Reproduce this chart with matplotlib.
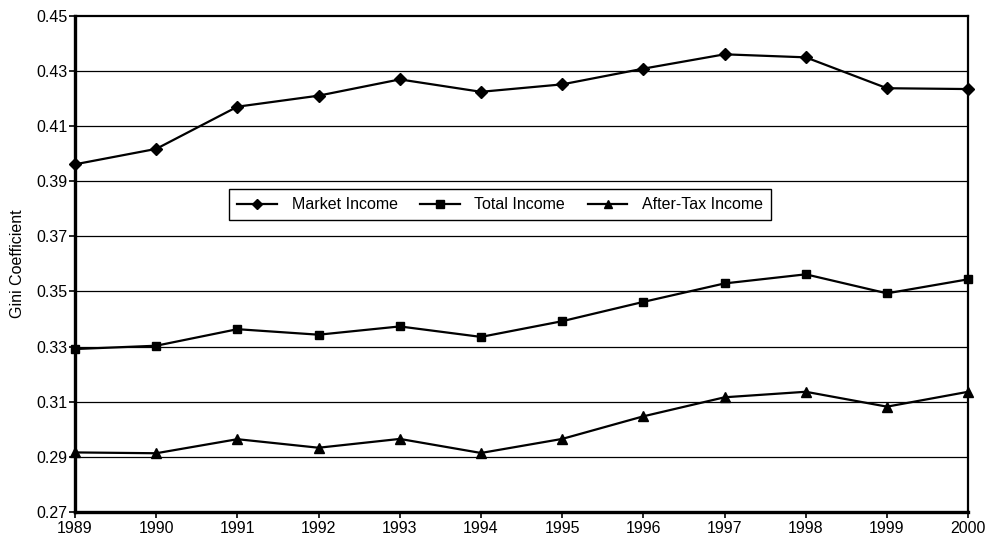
import matplotlib.pyplot as plt

plt.rcParams['font.family'] = ['Liberation Sans', 'DejaVu Sans']

years = [1989, 1990, 1991, 1992, 1993, 1994, 1995, 1996, 1997, 1998, 1999, 2000]
market_income = [0.3961, 0.4017, 0.4170, 0.4210, 0.4269, 0.4224,
                 0.4251, 0.4308, 0.4360, 0.4349, 0.4237, 0.4234]
total_income = [0.3291, 0.3303, 0.3363, 0.3343, 0.3373, 0.3335,
                0.3392, 0.3462, 0.3529, 0.3562, 0.3493, 0.3544]
after_tax_income = [0.2916, 0.2913, 0.2964, 0.2933, 0.2965, 0.2914,
                    0.2965, 0.3047, 0.3116, 0.3136, 0.3082, 0.3136]
y_ticks = [0.27, 0.29, 0.31, 0.33, 0.35, 0.37, 0.39, 0.41, 0.43, 0.45]

fig = plt.figure(figsize=(9.92, 5.42), dpi=100)
ax = fig.add_axes([0.0756, 0.0554, 0.9004, 0.9156])

# horizontal gridlines
for t in y_ticks[1:-1]:
    ax.axhline(t, color='black', linewidth=0.9, zorder=1)

ax.plot(years, market_income, color='black', linewidth=1.6, marker='D',
        markersize=6.5, label='Market Income', zorder=3, clip_on=False)
ax.plot(years, total_income, color='black', linewidth=1.6, marker='s',
        markersize=6, label='Total Income', zorder=3, clip_on=False)
ax.plot(years, after_tax_income, color='black', linewidth=1.6, marker='^',
        markersize=7.5, label='After-Tax Income', zorder=3, clip_on=False)

ax.set_xlim(1989, 2000)
ax.set_ylim(0.27, 0.45)
ax.set_xticks(years)
ax.set_xticklabels([str(y) for y in years])
ax.set_yticks(y_ticks)
ax.set_yticklabels([f'{t:.2f}' for t in y_ticks])
ax.tick_params(axis='both', labelsize=11.5, direction='out', length=4.5, width=1.2, color='black')
ax.tick_params(axis='x', pad=2)
ax.tick_params(axis='y', pad=1)
ax.set_ylabel('Gini Coefficient', fontsize=11.5)
ax.yaxis.set_label_coords(-0.056, 0.5)

for side in ['left', 'bottom']:
    ax.spines[side].set_linewidth(2.4)
for side in ['top', 'right']:
    ax.spines[side].set_linewidth(1.6)

leg = ax.legend(loc='center', bbox_to_anchor=(0.476, 0.619), ncol=3, fontsize=11.5,
                frameon=True, fancybox=False, edgecolor='black', framealpha=1,
                handlelength=2.5, columnspacing=1.4, handletextpad=0.9,
                borderpad=0.5, markerscale=0.85)
leg.get_frame().set_linewidth(1.0)

fig.savefig('out.png', dpi=100)
